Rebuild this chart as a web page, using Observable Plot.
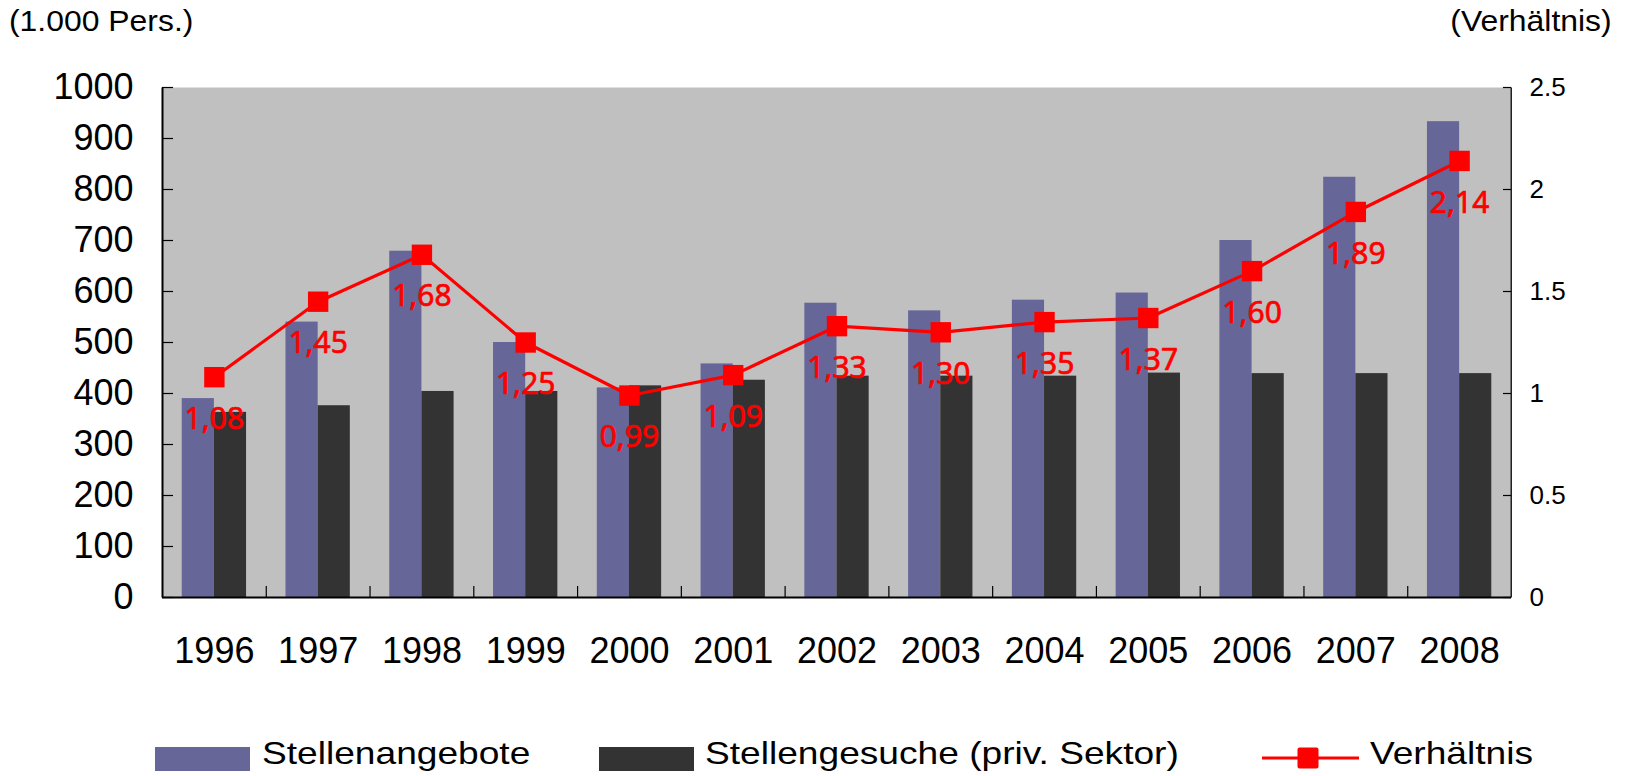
<!DOCTYPE html>
<html>
<head>
<meta charset="utf-8">
<script src="https://cdn.jsdelivr.net/npm/d3@7"></script>
<script src="https://cdn.jsdelivr.net/npm/@observablehq/plot@0.6"></script>
<style>
  html, body { margin: 0; padding: 0; background: #fff; }
  body { font-family: "Liberation Sans", Arial, sans-serif; color: #000; }
  #wrap { position: relative; width: 1632px; height: 776px; overflow: hidden; background: #fff; }
  #chart { position: absolute; left: 0; top: 0; }
  .t { position: absolute; white-space: nowrap; line-height: 1; transform-origin: 0 0; }
  .sw { position: absolute; }
</style>
</head>
<body>
<div id="wrap">
  <div id="chart"></div>
  <div class="t" id="unitLeft" style="left:9px; top:7px; font-size:29px; transform:scaleX(1.1);"></div>
  <div class="t" id="unitRight" style="right:20px; top:7px; font-size:29px; transform:scaleX(1.1); transform-origin:100% 0;"></div>
  <div id="legend"></div>
</div>
<script>
// ---------- data ----------
const years = ["1996","1997","1998","1999","2000","2001","2002","2003","2004","2005","2006","2007","2008"];
const offers = [390, 540, 679, 500, 411, 458, 577, 562, 583, 597, 700, 824, 933];   // Stellenangebote (1.000 Pers.)
const seekers = [363, 376, 404, 404, 415, 426, 434, 434, 434, 440, 439, 439, 439];  // Stellengesuche (priv. Sektor)
const ratio = [1.08, 1.45, 1.68, 1.25, 0.99, 1.09, 1.33, 1.30, 1.35, 1.37, 1.60, 1.89, 2.14]; // Verhältnis
const leftTicks = [0, 100, 200, 300, 400, 500, 600, 700, 800, 900, 1000];
const rightTicks = [0, 0.5, 1, 1.5, 2, 2.5];
const seriesNames = ["Stellenangebote", "Stellengesuche (priv. Sektor)", "Verhältnis"];
const unitLeft = "(1.000 Pers.)";
const unitRight = "(Verhältnis)";

// ---------- layout ----------
const W = 1632, H = 700;
const mL = 162, mR = 121, mT = 87, mB = 103;
const plotW = W - mL - mR, plotH = H - mT - mB;
const padIn = 0.38;
const step = plotW / years.length;
const half = step * (1 - padIn) / 2;
const k = 1000 / 2.5; // right axis → left axis units

const rows = years.map((year, i) => ({year, offers: offers[i], seekers: seekers[i], ratio: ratio[i]}));
const fmt = v => v.toFixed(2).replace(".", ",");

const chart = Plot.plot({
  width: W, height: H,
  marginLeft: mL, marginRight: mR, marginTop: mT, marginBottom: mB,
  style: {fontFamily: "'Liberation Sans', Arial, sans-serif", background: "transparent", color: "#000", overflow: "visible"},
  x: {domain: years, paddingInner: padIn, paddingOuter: padIn / 2, round: false, axis: null},
  y: {domain: [0, 1000], axis: null},
  marks: [
    Plot.frame({fill: "#c0c0c0", stroke: "none"}),
    Plot.barY(rows, {x: "year", y: "offers", fill: "#666699", insetRight: half}),
    Plot.barY(rows, {x: "year", y: "seekers", fill: "#333333", insetLeft: half}),
    // axis lines
    Plot.frame({fill: "#000", stroke: "none", insetLeft: -1, insetRight: plotW - 1}),
    Plot.frame({fill: "#222", stroke: "none", insetLeft: plotW - 1, insetRight: -0.5}),
    Plot.ruleY([0], {stroke: "#000", strokeWidth: 2}),
    // inner ticks
    Plot.tickY(leftTicks, {y: d => d, insetRight: plotW - 11, stroke: "#000", strokeWidth: 1.2}),
    Plot.tickY(rightTicks, {y: d => d * k, insetLeft: plotW - 8, stroke: "#000", strokeWidth: 1.2}),
    Plot.tickX(years.slice(1), {x: d => d, dx: -step / 2, insetTop: plotH - 11, stroke: "#000", strokeWidth: 1.2}),
    // ratio line
    Plot.line(rows, {x: "year", y: d => d.ratio * k, stroke: "#ff0000", strokeWidth: 3.2}),
    Plot.dot(rows, {x: "year", y: d => d.ratio * k, symbol: "square", fill: "#ff0000", stroke: "none", r: 11.5}),
    Plot.text(rows, {x: "year", y: d => d.ratio * k, text: d => fmt(d.ratio), dy: 42, fill: "#ff0000", stroke: "#ff0000", strokeWidth: 0.7, fontSize: 30, fontFamily: "'Noto Sans', sans-serif"}),
    // axes
    Plot.axisY(leftTicks, {anchor: "left", tickSize: 0, tickPadding: 29, fontSize: 36, label: null, tickFormat: d => String(d)}),
    Plot.axisY(rightTicks.map(v => v * k), {anchor: "right", tickSize: 0, tickPadding: 18, fontSize: 26, label: null, tickFormat: d => String(d / k)}),
    Plot.axisX(years, {anchor: "bottom", tickSize: 0, tickPadding: 40, fontSize: 36, label: null})
  ]
});
document.getElementById("chart").appendChild(chart);

document.getElementById("unitLeft").textContent = unitLeft;
document.getElementById("unitRight").textContent = unitRight;

// ---------- legend ----------
const legend = document.getElementById("legend");
const colors = ["#666699", "#333333"];
const swatchLeft = [155, 599];
const textLeft = [262, 705, 1370];
colors.forEach((c, i) => {
  const s = document.createElement("div");
  s.className = "sw";
  s.style.cssText = `left:${swatchLeft[i]}px; top:747px; width:95px; height:24px; background:${c};`;
  legend.appendChild(s);
});
const svgNS = "http://www.w3.org/2000/svg";
const lsvg = document.createElementNS(svgNS, "svg");
lsvg.setAttribute("width", 110); lsvg.setAttribute("height", 30);
lsvg.style.cssText = "position:absolute; left:1256px; top:743px;";
const ln = document.createElementNS(svgNS, "line");
ln.setAttribute("x1", 6); ln.setAttribute("x2", 103); ln.setAttribute("y1", 15); ln.setAttribute("y2", 15);
ln.setAttribute("stroke", "#ff0000"); ln.setAttribute("stroke-width", 3);
lsvg.appendChild(ln);
const sq = document.createElementNS(svgNS, "rect");
sq.setAttribute("x", 41.5); sq.setAttribute("y", 4.5); sq.setAttribute("width", 21); sq.setAttribute("height", 21);
sq.setAttribute("rx", 2); sq.setAttribute("fill", "#ff0000");
lsvg.appendChild(sq);
legend.appendChild(lsvg);
seriesNames.forEach((name, i) => {
  const t = document.createElement("div");
  t.className = "t";
  t.style.cssText = `left:${textLeft[i]}px; top:737px; font-size:32px; transform:scaleX(1.16);`;
  t.textContent = name;
  legend.appendChild(t);
});
</script>
</body>
</html>
